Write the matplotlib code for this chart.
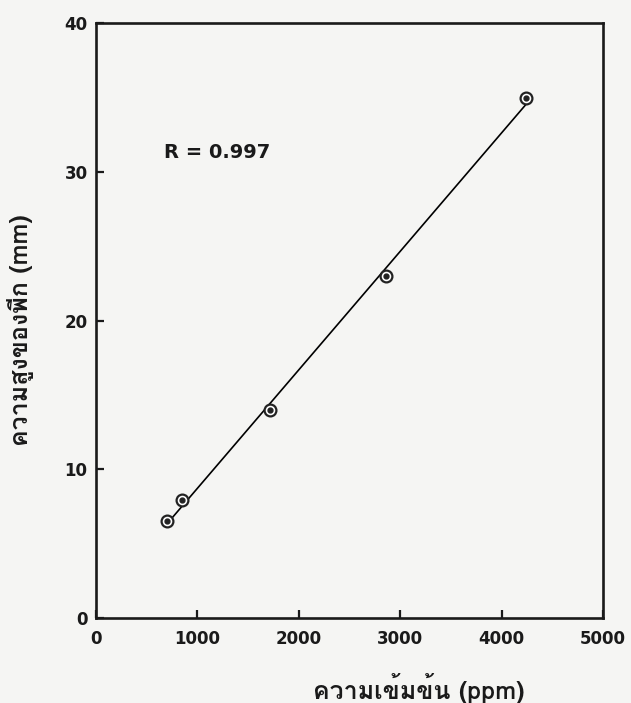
import numpy as np
import matplotlib
matplotlib.use("Agg")
import matplotlib.pyplot as plt

# calibration data: concentration (ppm) vs peak height (mm)
conc_ppm = [700, 850, 1720, 2860, 4240]
peak_mm = [6.5, 7.9, 14.0, 23.0, 35.0]
x_ticks = [0, 1000, 2000, 3000, 4000, 5000]
y_ticks = [0, 10, 20, 30, 40]
r_text = "R = 0.997"
x_title = "ความเข้มข้น (ppm)"
y_title = "ความสูงของพีก (mm)"

thai_font = ["Loma", "IBM Plex Sans Thai Looped", "DejaVu Sans"]
paper = "#f5f5f3"

fig = plt.figure(figsize=(6.31, 7.03), dpi=100, facecolor=paper)
ax = fig.add_axes([0.152, 0.121, 0.804, 0.846], facecolor=paper)

# least-squares line between the smallest and largest standard
slope, icpt = np.polyfit(conc_ppm, peak_mm, 1)
xs = np.array([min(conc_ppm) + 60, max(conc_ppm)])
ax.plot(xs, slope * xs + icpt, color="black", lw=1.2, zorder=2)

ax.plot(conc_ppm, peak_mm, ls="none", marker="o", ms=8.5, mfc="white",
        mec="#222222", mew=1.6, zorder=3)
ax.plot(conc_ppm, peak_mm, ls="none", marker="o", ms=3.5, color="#222222",
        zorder=4)

ax.set_xlim(0, 5000)
ax.set_ylim(0, 40)
ax.set_xticks(x_ticks)
ax.set_yticks(y_ticks)
ax.tick_params(direction="in", length=6, width=1.6, colors="#1a1a1a",
               labelsize=12)
ax.tick_params(axis="x", pad=9)
ax.tick_params(axis="y", pad=6)
for lab in ax.get_xticklabels() + ax.get_yticklabels():
    lab.set_fontweight("bold")
for sp in ax.spines.values():
    sp.set_linewidth(1.9)
    sp.set_color("#1a1a1a")

ax.text(0.135, 0.783, r_text, transform=ax.transAxes, fontsize=14,
        fontweight="bold", color="#1a1a1a", va="center", ha="left")

ax.set_xlabel(x_title, family=thai_font, fontsize=18, fontweight="bold",
              color="#1a1a1a", va="center")
ax.xaxis.set_label_coords(0.637, -0.118)
ax.set_ylabel(y_title, family=thai_font, fontsize=18, fontweight="bold",
              color="#1a1a1a", va="center")
ax.yaxis.set_label_coords(-0.148, 0.484)

fig.savefig("out.png", dpi=100, facecolor=paper)
